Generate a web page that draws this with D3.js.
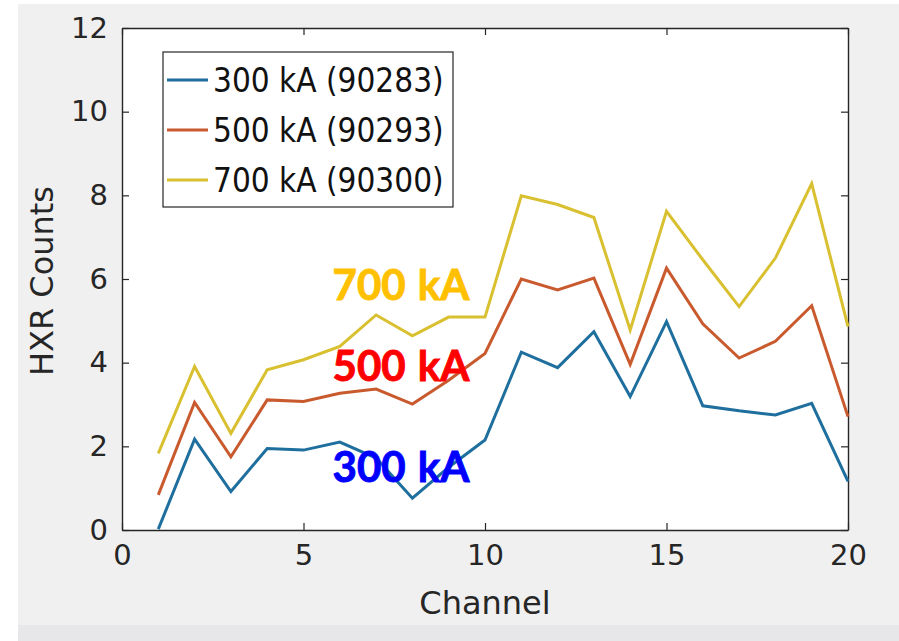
<!DOCTYPE html>
<html>
<head>
<meta charset="utf-8">
<script src="https://cdn.jsdelivr.net/npm/d3@7/dist/d3.min.js"></script>
<style>
  html, body { margin: 0; padding: 0; background: #ffffff; }
  svg { display: block; }
</style>
</head>
<body>
<svg id="chart" width="899" height="641"></svg>
<script>
// HXR counts per detector channel for three plasma currents
const channels = d3.range(1, 21);
const counts300 = [0.02, 2.17, 0.92, 1.95, 1.91, 2.10, 1.72, 0.76, 1.50, 2.15,
                   4.25, 3.88, 4.74, 3.19, 4.98, 2.97, 2.85, 2.75, 3.03, 1.16];
const counts500 = [0.84, 3.05, 1.75, 3.11, 3.07, 3.27, 3.37, 3.01, 3.58, 4.22,
                   6.00, 5.74, 6.02, 3.96, 6.26, 4.93, 4.11, 4.51, 5.36, 2.71];
const counts700 = [1.83, 3.91, 2.31, 3.83, 4.07, 4.39, 5.14, 4.64, 5.09, 5.09,
                   7.99, 7.78, 7.47, 4.78, 7.62, 6.46, 5.34, 6.50, 8.28, 4.86];
const seriesNames = ["300 kA (90283)", "500 kA (90293)", "700 kA (90300)"];
const seriesColors = ["#1f6f9e", "#c95a2e", "#d9c030"];
const xTicks = [0, 5, 10, 15, 20];
const yTicks = [0, 2, 4, 6, 8, 10, 12];
const annotations = [
  { text: "700 kA", color: "#FFC000", x: 5.8, y: 5.5 },
  { text: "500 kA", color: "#FF0000", x: 5.8, y: 3.55 },
  { text: "300 kA", color: "#0000FF", x: 5.8, y: 1.15 }
];

const series = [counts300, counts500, counts700].map((vals, i) => ({
  name: seriesNames[i],
  color: seriesColors[i],
  values: vals.map((v, j) => ({ c: channels[j], v }))
}));

const svg = d3.select("#chart");
const W = 899, H = 641;
const plot = { left: 122, right: 848, top: 28, bottom: 530 };

// figure background
svg.append("rect").attr("width", W).attr("height", H).attr("fill", "#ffffff");
svg.append("rect").attr("x", 18).attr("y", 4).attr("width", W - 18).attr("height", H - 4)
  .attr("fill", "#f0f0f0");
svg.append("rect").attr("x", 18).attr("y", 625).attr("width", W - 18).attr("height", H - 625)
  .attr("fill", "#e7e7ea");

const x = d3.scaleLinear().domain([0, 20]).range([plot.left, plot.right]);
const y = d3.scaleLinear().domain([0, 12]).range([plot.bottom, plot.top]);

// axes area
svg.append("rect")
  .attr("x", plot.left).attr("y", plot.top)
  .attr("width", plot.right - plot.left).attr("height", plot.bottom - plot.top)
  .attr("fill", "#ffffff");

const axisColor = "#262626";
const tickFont = "'DejaVu Sans', sans-serif";

const gx = svg.append("g").attr("transform", `translate(0,${plot.bottom})`)
  .call(d3.axisBottom(x).tickValues(xTicks).tickSize(-7).tickPadding(14).tickSizeOuter(0));
const gxTop = svg.append("g").attr("transform", `translate(0,${plot.top})`)
  .call(d3.axisTop(x).tickValues(xTicks).tickSize(-7).tickFormat("").tickSizeOuter(0));
const gy = svg.append("g").attr("transform", `translate(${plot.left},0)`)
  .call(d3.axisLeft(y).tickValues(yTicks).tickSize(-7).tickPadding(14).tickSizeOuter(0));
const gyRight = svg.append("g").attr("transform", `translate(${plot.right},0)`)
  .call(d3.axisRight(y).tickValues(yTicks).tickSize(-7).tickFormat("").tickSizeOuter(0));

[gx, gxTop, gy, gyRight].forEach(g => {
  g.select(".domain").attr("stroke", axisColor).attr("stroke-width", 1.4);
  g.selectAll(".tick line").attr("stroke", axisColor).attr("stroke-width", 1.2);
  g.selectAll(".tick text")
    .attr("fill", "#262626")
    .style("font-family", tickFont)
    .style("font-size", "29px");
});
gx.selectAll(".tick text").attr("dy", "0.71em");

// axis titles
svg.append("text")
  .attr("x", (plot.left + plot.right) / 2).attr("y", 614)
  .attr("text-anchor", "middle")
  .attr("fill", "#262626")
  .style("font-family", tickFont).style("font-size", "32px")
  .text("Channel");
svg.append("text")
  .attr("transform", `translate(53,${(plot.top + plot.bottom) / 2 + 2}) rotate(-90)`)
  .attr("text-anchor", "middle")
  .attr("fill", "#262626")
  .style("font-family", tickFont).style("font-size", "32px")
  .text("HXR Counts");

// data lines
const line = d3.line().x(d => x(d.c)).y(d => y(d.v));
svg.append("g").selectAll("path")
  .data(series)
  .join("path")
  .attr("d", d => line(d.values))
  .attr("fill", "none")
  .attr("stroke", d => d.color)
  .attr("stroke-width", 3)
  .attr("stroke-linejoin", "miter");

// legend
const legend = { x: 163, y: 52, w: 290, h: 155 };
const lg = svg.append("g");
lg.append("rect")
  .attr("x", legend.x).attr("y", legend.y)
  .attr("width", legend.w).attr("height", legend.h)
  .attr("fill", "#ffffff").attr("stroke", axisColor).attr("stroke-width", 1.2);
series.forEach((s, i) => {
  const cy = 80 + i * 50;
  lg.append("line")
    .attr("x1", 167).attr("x2", 208).attr("y1", cy).attr("y2", cy)
    .attr("stroke", s.color).attr("stroke-width", 3);
  lg.append("text")
    .attr("x", 213).attr("y", cy).attr("dy", "0.36em")
    .attr("fill", "#111111")
    .style("font-family", "'DejaVu Sans Condensed', 'DejaVu Sans', sans-serif")
    .style("font-stretch", "condensed")
    .style("font-size", "33px")
    .text(s.name);
});

// current labels
svg.append("g").selectAll("text")
  .data(annotations)
  .join("text")
  .attr("x", d => x(d.x))
  .attr("y", d => y(d.y))
  .attr("fill", d => d.color)
  .attr("stroke", d => d.color)
  .attr("stroke-width", 0.9)
  .style("font-family", "Lato, 'Open Sans', sans-serif")
  .style("font-weight", "bold")
  .style("font-size", "42px")
  .style("word-spacing", "2px")
  .text(d => d.text);
</script>
</body>
</html>
